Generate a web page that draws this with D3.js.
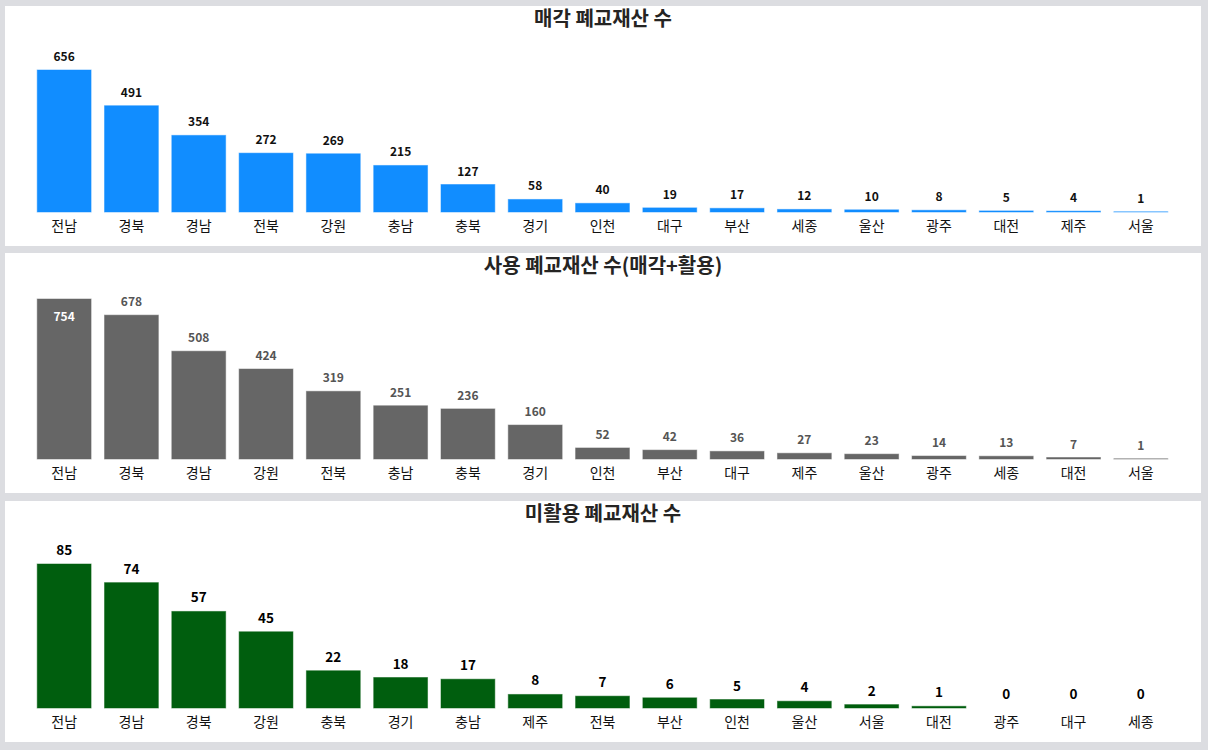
<!DOCTYPE html>
<html>
<head>
<meta charset="utf-8">
<script src="https://cdn.jsdelivr.net/npm/d3@7"></script>
<style>
  body { margin: 0; background: #dcdde1; }
  svg { display: block; font-family: "Noto Sans CJK KR", "Noto Sans", sans-serif; }
</style>
</head>
<body>
<div id="chart"></div>
<script>
// data
var soldTitle = "매각 폐교재산 수";
var soldRegions = ["전남","경북","경남","전북","강원","충남","충북","경기","인천","대구","부산","세종","울산","광주","대전","제주","서울"];
var soldCounts = [656,491,354,272,269,215,127,58,40,19,17,12,10,8,5,4,1];

var usedTitle = "사용 폐교재산 수(매각+활용)";
var usedRegions = ["전남","경북","경남","강원","전북","충남","충북","경기","인천","부산","대구","제주","울산","광주","세종","대전","서울"];
var usedCounts = [754,678,508,424,319,251,236,160,52,42,36,27,23,14,13,7,1];

var unusedTitle = "미활용 폐교재산 수";
var unusedRegions = ["전남","경남","경북","강원","충북","경기","충남","제주","전북","부산","인천","울산","서울","대전","광주","대구","세종"];
var unusedCounts = [85,74,57,45,22,18,17,8,7,6,5,4,2,1,0,0,0];

var W = 1208, H = 750;
var svg = d3.select("#chart").append("svg").attr("width", W).attr("height", H);

var panels = [
  {title: soldTitle, cats: soldRegions, vals: soldCounts, top: 6, h: 240, base: 212, maxTop: 70,
   color: "#118dff", lblColor: "#111", lblSize: 12},
  {title: usedTitle, cats: usedRegions, vals: usedCounts, top: 253, h: 240, base: 459, maxTop: 299,
   color: "#666666", lblColor: "#555", lblSize: 12},
  {title: unusedTitle, cats: unusedRegions, vals: unusedCounts, top: 501, h: 241, base: 708, maxTop: 564,
   color: "#005e0e", lblColor: "#000", lblSize: 13.5}
];

panels.forEach(function(p) {
  var g = svg.append("g");

  g.append("rect")
    .attr("x", 5).attr("y", p.top)
    .attr("width", 1196).attr("height", p.h)
    .attr("fill", "#fff");

  g.append("text")
    .attr("x", 603).attr("y", p.top + 20)
    .attr("text-anchor", "middle")
    .attr("font-size", 20).attr("font-weight", "bold")
    .attr("fill", "#252423")
    .text(p.title);

  var x = d3.scaleBand()
    .domain(p.cats)
    .range([30.5, 1174.5])
    .paddingInner(0.2)
    .paddingOuter(0.1);

  var y = d3.scaleLinear()
    .domain([0, d3.max(p.vals)])
    .range([p.base, p.maxTop]);

  var rows = p.cats.map(function(c, i) { return {cat: c, val: p.vals[i]}; });

  g.selectAll("rect.bar")
    .data(rows)
    .enter().append("rect")
      .attr("class", "bar")
      .attr("x", function(d) { return x(d.cat); })
      .attr("width", x.bandwidth())
      .attr("y", function(d) { return y(d.val); })
      .attr("height", function(d) { return p.base - y(d.val); })
      .attr("fill", p.color)
      .attr("stroke", function(d) { return d.val > 0 ? p.color : "none"; })
      .attr("stroke-opacity", 0.5)
      .attr("stroke-width", 1);

  // value labels: above the bar, or inside if too close to the title
  g.selectAll("text.val")
    .data(rows)
    .enter().append("text")
      .attr("class", "val")
      .attr("x", function(d) { return x(d.cat) + x.bandwidth() / 2; })
      .attr("y", function(d) {
        var t = y(d.val);
        return (t - p.top < 50) ? t + 22 : t - 9;
      })
      .attr("text-anchor", "middle")
      .attr("font-size", p.lblSize).attr("font-weight", "bold")
      .attr("fill", function(d) { return (y(d.val) - p.top < 50) ? "#fff" : p.lblColor; })
      .text(function(d) { return d.val; });

  // category axis
  var axis = g.append("g")
    .attr("transform", "translate(0," + p.base + ")")
    .call(d3.axisBottom(x).tickSize(0).tickPadding(9));
  axis.select(".domain").remove();
  axis.selectAll("text")
    .attr("font-size", 14)
    .attr("font-family", "'Noto Sans CJK KR', sans-serif")
    .attr("fill", "#111");
});
</script>
</body>
</html>
